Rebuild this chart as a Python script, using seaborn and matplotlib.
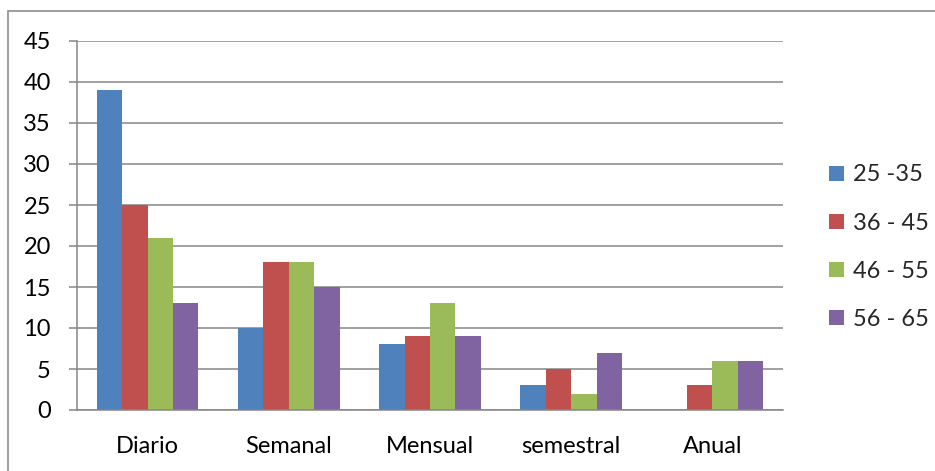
import matplotlib
matplotlib.use("Agg")
import matplotlib.pyplot as plt
import seaborn as sns
import pandas as pd
from matplotlib.patches import Patch, Rectangle

categories = ["Diario", "Semanal", "Mensual", "semestral", "Anual"]
groups = ["25 -35", "36 - 45", "46 - 55", "56 - 65"]
v_25_35 = [39, 10, 8, 3, 0]
v_36_45 = [25, 18, 9, 5, 3]
v_46_55 = [21, 18, 13, 2, 6]
v_56_65 = [13, 15, 9, 7, 6]
y_ticks = [0, 5, 10, 15, 20, 25, 30, 35, 40, 45]

colors = ["#4F81BD", "#C0504D", "#9BBB59", "#8064A2"]
grid_col = "#868686"

rows = []
for g, vals in zip(groups, [v_25_35, v_36_45, v_46_55, v_56_65]):
    for c, v in zip(categories, vals):
        rows.append({"Periodo": c, "Edad": g, "Valor": v})
df = pd.DataFrame(rows)

sns.set_theme(style="white")
plt.rcParams["font.family"] = ["Lato", "DejaVu Sans"]
FS = 17

W, H = 935, 471
fig = plt.figure(figsize=(W / 100, H / 100), dpi=100)
ax = fig.add_axes([77 / W, 1 - 410 / H, (783 - 77) / W, (410 - 41) / H])

sns.barplot(data=df, x="Periodo", y="Valor", hue="Edad", order=categories,
            hue_order=groups, palette=colors, width=0.72, gap=0,
            saturation=1, edgecolor="none", linewidth=0, legend=False, ax=ax)

ax.set_ylim(0, 45)
ax.set_yticks(y_ticks)
ax.set_xlim(-0.5, len(categories) - 0.5)
ax.set_xlabel("")
ax.set_ylabel("")
ax.set_axisbelow(True)
ax.yaxis.grid(True, color=grid_col, linewidth=1.1)
ax.xaxis.grid(False)

for side in ["top", "right"]:
    ax.spines[side].set_visible(False)
for side in ["left", "bottom"]:
    ax.spines[side].set_color(grid_col)
    ax.spines[side].set_linewidth(1.1)

ax.tick_params(axis="y", which="major", left=True, length=5.8, width=1.1,
               color=grid_col, pad=13, labelsize=FS, labelcolor="black")
ax.tick_params(axis="x", which="major", bottom=False, pad=13, labelsize=FS,
               labelcolor="black")

handles = [Patch(facecolor=c, edgecolor="none") for c in colors]
fig.legend(handles, groups, loc="upper left", bbox_to_anchor=(820 / W, 1 - 155 / H),
           frameon=False, fontsize=FS, handlelength=0.6, handleheight=0.6,
           handletextpad=0.4, labelspacing=1.15, borderaxespad=0)

# outer chart frame
fig.patches.append(Rectangle((8 / W, -0.2), 2, 1.2 - 11 / H, transform=fig.transFigure,
                             fill=False, edgecolor="#8c8c8c", linewidth=1.2))

fig.savefig("out.png", dpi=100)
